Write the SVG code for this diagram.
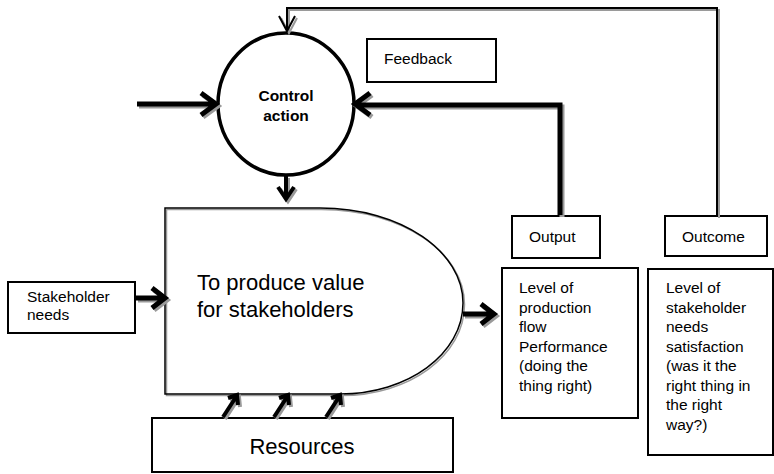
<svg xmlns="http://www.w3.org/2000/svg" xmlns:xlink="http://www.w3.org/1999/xlink" width="774" height="474" viewBox="0 0 774 474">
<style>
  text { font-family: "Liberation Sans", Arial, sans-serif; fill: #000; }
  .box { fill: #fff; stroke: #000; stroke-width: 2; }
  .t15 { font-size: 15.5px; }
  .t22 { font-size: 22px; }
  .bold { font-weight: bold; text-anchor: middle; }
  .thick { fill: none; stroke-width: 5; stroke-linejoin: miter; }
  .med { fill: none; stroke-width: 4; stroke-linejoin: miter; }
  .thin { fill: none; stroke-width: 2; }
  .shadow { stroke: #9a9a9a; }
  .ink { stroke: #000; }
</style>
<defs>
  <path id="c-in" d="M137,104 H213 M201,93 L216,104 L201,115"/>
  <path id="c-fb" d="M560,215 V105 H358 M370,93 L355,104 L370,115"/>
  <path id="c-top" d="M717,216 V8 H287 V30 M279,16 L287,31 L295,16"/>
  <path id="c-down" d="M286,176 V196 M278,187 L286,199 L294,187"/>
  <path id="c-sh" d="M136,298 H161 M152,288 L165,298 L152,308"/>
  <path id="c-out" d="M463,314 H491 M481,304 L494,314 L481,324"/>
  <path id="c-r1" d="M223,417 L236,397 M228,398 L237,395 L238,405"/>
  <path id="c-r2" d="M274,417 L287,397 M279,398 L288,395 L289,405"/>
  <path id="c-r3" d="M326,417 L339,397 M331,398 L340,395 L341,405"/>
  <path id="proc" d="M165,208 H320 C402,208 463,252 463,303 C463,354 408,394 340,394 H165 Z"/>
</defs>

<g id="node-process">
  <use xlink:href="#proc" fill="#fff" stroke="none"/>
  <use xlink:href="#proc" fill="none" stroke="#9a9a9a" stroke-width="1.5" transform="translate(1.5,1.5)"/>
  <use xlink:href="#proc" fill="none" stroke="#000" stroke-width="1.5"/>
  <text class="t22" x="197" y="290">To produce value</text>
  <text class="t22" x="197" y="317">for stakeholders</text>
</g>

<g id="node-control">
  <ellipse cx="286" cy="104" rx="68" ry="71" fill="#fff" stroke="#000" stroke-width="3.5"/>
  <text class="t15 bold" x="286" y="101">Control</text>
  <text class="t15 bold" x="286" y="121">action</text>
</g>

<g id="node-feedback">
  <rect class="box" x="367" y="39" width="129" height="43"/>
  <text class="t15" x="384" y="64">Feedback</text>
</g>

<g id="node-stakeholder">
  <rect class="box" x="8" y="282" width="127" height="51"/>
  <text class="t15" x="27" y="302">Stakeholder</text>
  <text class="t15" x="27" y="320">needs</text>
</g>

<g id="node-resources">
  <rect class="box" x="152" y="418" width="301" height="54"/>
  <text class="t22" x="302" y="454" text-anchor="middle">Resources</text>
</g>

<g id="node-output">
  <rect class="box" x="512" y="216" width="88" height="42"/>
  <text class="t15" x="529" y="242">Output</text>
</g>

<g id="node-outcome">
  <rect class="box" x="665" y="216" width="102" height="40"/>
  <text class="t15" x="682" y="242">Outcome</text>
</g>

<g id="node-level1">
  <rect class="box" x="502" y="268" width="136" height="150"/>
  <text class="t15" x="519" y="293">Level of</text>
  <text class="t15" x="519" y="313">production</text>
  <text class="t15" x="519" y="332">flow</text>
  <text class="t15" x="519" y="352">Performance</text>
  <text class="t15" x="519" y="371">(doing the</text>
  <text class="t15" x="519" y="391">thing right)</text>
</g>

<g id="node-level2">
  <rect class="box" x="648" y="269" width="125" height="186"/>
  <text class="t15" x="666" y="293">Level of</text>
  <text class="t15" x="666" y="313">stakeholder</text>
  <text class="t15" x="666" y="332">needs</text>
  <text class="t15" x="666" y="352">satisfaction</text>
  <text class="t15" x="666" y="371">(was it the</text>
  <text class="t15" x="666" y="391">right thing in</text>
  <text class="t15" x="666" y="410">the right</text>
  <text class="t15" x="666" y="430">way?)</text>
</g>

<g id="connectors">
  <g class="shadow" transform="translate(2,2)">
    <use xlink:href="#c-in" class="thick"/>
    <use xlink:href="#c-fb" class="thick"/>
    <use xlink:href="#c-top" class="thin"/>
    <use xlink:href="#c-down" class="med"/>
    <use xlink:href="#c-sh" class="thick"/>
    <use xlink:href="#c-out" class="thick"/>
    <use xlink:href="#c-r1" class="med"/>
    <use xlink:href="#c-r2" class="med"/>
    <use xlink:href="#c-r3" class="med"/>
  </g>
  <g class="ink">
    <use xlink:href="#c-in" class="thick"/>
    <use xlink:href="#c-fb" class="thick"/>
    <use xlink:href="#c-top" class="thin"/>
    <use xlink:href="#c-down" class="med"/>
    <use xlink:href="#c-sh" class="thick"/>
    <use xlink:href="#c-out" class="thick"/>
    <use xlink:href="#c-r1" class="med"/>
    <use xlink:href="#c-r2" class="med"/>
    <use xlink:href="#c-r3" class="med"/>
  </g>
</g>
</svg>
